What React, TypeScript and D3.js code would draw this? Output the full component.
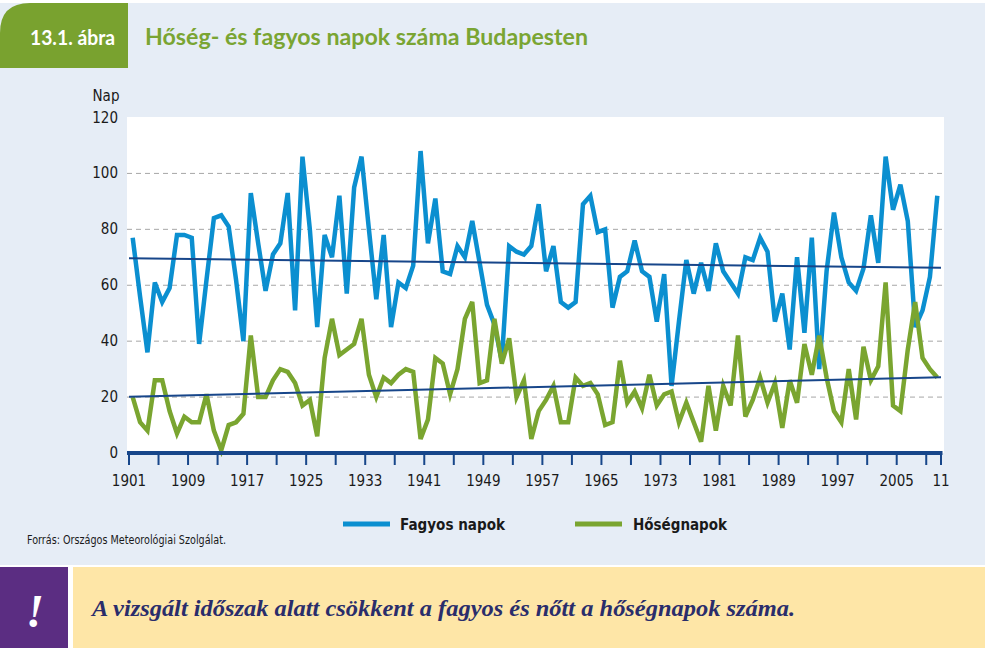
import * as d3 from 'd3';

// Budapest, 1901–2010
const startYear = 1901;

const fagyosNapok = [
  77, 56, 36, 61, 54, 59, 78, 78, 77, 39,
  62, 84, 85, 81, 62, 40, 93, 75, 58, 71,
  75, 93, 51, 106, 80, 45, 78, 70, 92, 57,
  95, 106, 80, 55, 78, 45, 61, 59, 67, 108,
  75, 91, 65, 64, 74, 70, 83, 68, 53, 46,
  33, 74, 72, 71, 74, 89, 65, 74, 54, 52,
  54, 89, 92, 79, 80, 52, 63, 65, 76, 65,
  63, 47, 64, 24, 47, 69, 57, 68, 58, 75,
  65, 61, 57, 70, 69, 77, 72, 47, 57, 37,
  70, 43, 77, 30, 65, 86, 70, 61, 58, 66,
  85, 68, 106, 87, 96, 83, 45, 51, 63, 92,
];

const hosegNapok = [
  20, 11, 8, 26, 26, 15, 7, 13, 11, 11,
  21, 8, 1, 10, 11, 14, 42, 20, 20, 26,
  30, 29, 25, 17, 19, 6, 34, 48, 35, 37,
  39, 48, 28, 20, 27, 25, 28, 30, 29, 5,
  12, 34, 32, 21, 30, 48, 54, 25, 26, 48,
  32, 41, 20, 26, 5, 15, 19, 24, 11, 11,
  27, 24, 25, 21, 10, 11, 33, 18, 22, 16,
  28, 17, 21, 22, 11, 18, 11, 4, 24, 8,
  24, 17, 42, 13, 19, 27, 18, 25, 9, 26,
  18, 39, 28, 42, 27, 15, 11, 30, 12, 38,
  26, 31, 61, 17, 15, 37, 54, 34, 30, 27,
];

const yTicks = [0, 20, 40, 60, 80, 100, 120];
const gridValues = [20, 40, 60, 80, 100];
const xLabelYears = [1901, 1909, 1917, 1925, 1933, 1941, 1949, 1957, 1965, 1973, 1981, 1989, 1997, 2005, 2011];
const xLabels = ['1901', '1909', '1917', '1925', '1933', '1941', '1949', '1957', '1965', '1973', '1981', '1989', '1997', '2005', '11'];

const BLUE = '#0b8fd0';
const GREEN = '#7aa530';
const NAVY = '#17468a';
const BG = '#e6edf6';
const condensed = '"Liberation Sans Narrow", "DejaVu Sans Condensed", "Roboto", sans-serif';
const titleFont = 'Lato, "Open Sans", sans-serif';

function trend(values: number[]) {
  const xs = values.map((_, i) => i);
  const mx = d3.mean(xs)!;
  const my = d3.mean(values)!;
  const num = d3.sum(xs, (x, i) => (x - mx) * (values[i] - my));
  const den = d3.sum(xs, (x) => (x - mx) * (x - mx));
  const slope = num / den;
  return (i: number) => my + slope * (i - mx);
}

export default function App() {
  const plot = { left: 127, right: 944, top: 117, bottom: 453 };
  const lastYear = startYear + fagyosNapok.length; // 2011, axis end

  const x = d3.scaleLinear().domain([startYear, lastYear]).range([129, 941]);
  const y = d3.scaleLinear().domain([0, 120]).range([plot.bottom, plot.top + 0.5]);

  // points sit in the middle of each year slot
  const px = (i: number) => x(startYear + i + 0.5);
  const line = d3.line<number>().x((_, i) => px(i)).y((d) => y(d));

  const tickYears = d3.range(startYear, lastYear, 4).concat([lastYear]);

  const tBlue = trend(fagyosNapok);
  const tGreen = trend(hosegNapok);
  const tx0 = -0.5;
  const tx1 = fagyosNapok.length - 0.5;

  const tabPath = 'M0,68 L0,33 Q0,3 30,3 L128,3 L128,68 Z';

  return (
    <svg
      width={992}
      height={656}
      style={{ position: 'absolute', left: 0, top: 0, background: '#fff' }}
    >
      <rect x={0} y={3} width={985} height={562} fill={BG} />
      <path d={tabPath} fill="#79a22f" />
      <text x={30} y={45} fill="#fff" fontFamily={titleFont} fontWeight={700} fontSize={20.5} textLength={85} lengthAdjust="spacingAndGlyphs">
        13.1. ábra
      </text>
      <text x={145} y={45} fill="#7aa533" fontFamily={titleFont} fontWeight={700} fontSize={22.5} textLength={443} lengthAdjust="spacingAndGlyphs">
        Hőség- és fagyos napok száma Budapesten
      </text>

      {/* plot area */}
      <rect x={plot.left} y={plot.top} width={plot.right - plot.left} height={plot.bottom - plot.top} fill="#fff" />
      {gridValues.map((v) => (
        <line key={v} x1={plot.left} x2={plot.right} y1={y(v)} y2={y(v)} stroke="#a6a6a6" strokeWidth={1} strokeDasharray="5,4" />
      ))}

      {/* y labels */}
      <text x={106} y={101} textAnchor="middle" fontFamily={condensed} fontSize={15} fill="#1a1a1a">Nap</text>
      {yTicks.map((v) => (
        <text key={v} x={118} y={y(v) + 5} textAnchor="end" fontFamily={condensed} fontSize={15} fill="#1a1a1a">
          {v}
        </text>
      ))}

      {/* series */}
      <path d={line(fagyosNapok)!} fill="none" stroke={BLUE} strokeWidth={4.5} strokeLinejoin="miter" />
      <path d={line(hosegNapok)!} fill="none" stroke={GREEN} strokeWidth={4.5} strokeLinejoin="miter" />

      {/* trend lines */}
      <line x1={px(tx0)} x2={px(tx1)} y1={y(tBlue(tx0))} y2={y(tBlue(tx1))} stroke={NAVY} strokeWidth={2} />
      <line x1={px(tx0)} x2={px(tx1)} y1={y(tGreen(tx0))} y2={y(tGreen(tx1))} stroke={NAVY} strokeWidth={2} />

      {/* x axis */}
      {tickYears.map((t) => (
        <line key={t} x1={x(t)} x2={x(t)} y1={plot.bottom} y2={plot.bottom + 12} stroke={NAVY} strokeWidth={2} />
      ))}
      <line x1={plot.left} x2={x(lastYear) + 1.5} y1={plot.bottom} y2={plot.bottom} stroke={NAVY} strokeWidth={4} />
      {xLabelYears.map((t, i) => (
        <text key={t} x={x(t)} y={486} textAnchor="middle" fontFamily={condensed} fontSize={15} fill="#1a1a1a">
          {xLabels[i]}
        </text>
      ))}

      {/* legend */}
      <line x1={343} x2={390} y1={524} y2={524} stroke={BLUE} strokeWidth={5} />
      <text x={400} y={530} fontFamily={condensed} fontWeight={700} fontSize={16} fill="#1a1a1a" textLength={105} lengthAdjust="spacingAndGlyphs">Fagyos napok</text>
      <line x1={575} x2={622} y1={524} y2={524} stroke={GREEN} strokeWidth={5} />
      <text x={633} y={530} fontFamily={condensed} fontWeight={700} fontSize={16} fill="#1a1a1a" textLength={94} lengthAdjust="spacingAndGlyphs">Hőségnapok</text>

      <text x={27} y={544} fontFamily={condensed} fontSize={11.5} fill="#1a1a1a" textLength={199} lengthAdjust="spacingAndGlyphs">
        Forrás: Országos Meteorológiai Szolgálat.
      </text>

      {/* note banner */}
      <rect x={0} y={567} width={68} height={81} fill="#5b2d82" />
      <rect x={73} y={567} width={912} height={81} fill="#fee6a7" />
      <text x={35} y={627} textAnchor="middle" fill="#fff" fontFamily="'Liberation Serif', serif" fontStyle="italic" fontWeight={700} fontSize={46}>
        !
      </text>
      <text x={92} y={616} fill="#2a2d6b" fontFamily="'Liberation Serif', serif" fontStyle="italic" fontWeight={700} fontSize={23.5} textLength={703} lengthAdjust="spacingAndGlyphs">
        A vizsgált időszak alatt csökkent a fagyos és nőtt a hőségnapok száma.
      </text>
    </svg>
  );
}
